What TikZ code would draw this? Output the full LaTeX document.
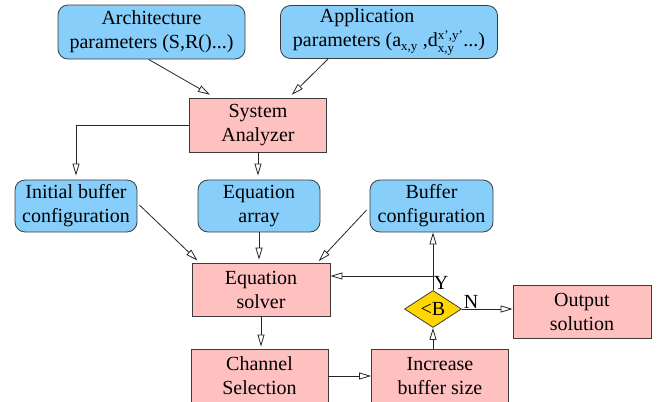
\documentclass[tikz,border=0pt]{standalone}
\usepackage{fontspec}
\setmainfont{Liberation Serif}
\usetikzlibrary{arrows.meta,shapes.geometric,calc}
\definecolor{boxblue}{RGB}{135,206,250}
\definecolor{boxpink}{RGB}{255,192,192}
\definecolor{boxgold}{RGB}{255,215,0}
\definecolor{edgegray}{RGB}{60,60,60}
\begin{document}
\begin{tikzpicture}[x=1pt,y=-1pt,
  every node/.style={font=\fontsize{20}{24}\selectfont, inner sep=0pt},
  bluebox/.style={draw=edgegray, line width=0.8pt, fill=boxblue, rounded corners=10pt, align=center},
  pinkbox/.style={draw=edgegray, line width=0.8pt, fill=boxpink, align=center},
  decbox/.style={draw=edgegray, line width=0.8pt, fill=boxgold, diamond, aspect=1.55, minimum width=57pt, minimum height=37pt},
  conn/.style={draw=black!85, line width=0.8pt, -{Triangle[open,length=12pt,width=7pt]}},
  plain/.style={draw=black!85, line width=0.8pt}]
\useasboundingbox (0,0) rectangle (657,402);
\clip (0,0) rectangle (657,402);
\node[bluebox, minimum width=187pt, minimum height=54pt] (arch) at (151.5,32) {Architecture\\parameters (S,R()...)};
\node[bluebox, minimum width=217pt, minimum height=53pt, align=left] (app) at (389,32)
  {\hspace*{27pt}Application\\parameters (a$_{\mbox{\fontsize{13}{13}\selectfont x,y}}$ ,d$^{\mbox{\fontsize{13}{13}\selectfont x',y'}}_{\mbox{\fontsize{13}{13}\selectfont x,y}}$...)};
\node[pinkbox, minimum width=137pt, minimum height=54pt] (sa) at (258,125) {System\\Analyzer};
\node[bluebox, minimum width=122pt, minimum height=52pt] (ib) at (76,206) {Initial buffer\\configuration};
\node[bluebox, minimum width=122pt, minimum height=52pt] (ea) at (259,206) {Equation\\array};
\node[bluebox, minimum width=123pt, minimum height=52pt] (bc) at (431.5,206) {Buffer\\configuration};
\node[pinkbox, minimum width=138pt, minimum height=53pt] (es) at (261,289.5) {Equation\\solver};
\node[decbox] (dec) at (433,309) {<B};
\node[pinkbox, minimum width=138pt, minimum height=53pt] (out) at (582,311.5) {Output\\solution};
\node[pinkbox, minimum width=137pt, minimum height=54pt] (cs) at (259.5,376) {Channel\\Selection};
\node[pinkbox, minimum width=137pt, minimum height=54pt] (inc) at (440,376) {Increase\\buffer size};
\node (ylab) at (441,283) {Y};
\node (nlab) at (471,302) {N};
\coordinate (yj) at (433,276);
% connectors
\draw[conn, shorten >=6pt] ($(arch.south west)+(91,0)$) -- ($(sa.north west)+(26,0)$);
\draw[conn, shorten >=4pt] ($(app.south west)+(48,0)$) -- ($(sa.north east)+(-38,0)$);
\draw[conn, shorten >=4pt] (sa.west) -| (ib.north);
\draw[conn, shorten >=4pt] (sa.south) -- (sa.south |- ea.north);
\draw[conn, shorten >=3pt] ($(ib.east)+(2,-1)$) -- ($(es.north west)+(8,0)$);
\draw[conn, shorten >=3pt] (ea.south) -- (ea.south |- es.north);
\draw[conn, shorten >=2pt] ($(bc.west)+(-3,4)$) -- ($(es.north east)+(-13,0)$);
\draw[conn] (dec.north) -- (dec.north |- bc.south);
\draw[conn] (yj) -- (yj -| es.east);
\draw[conn] (dec.east) -- (dec.east -| out.west);
\draw[conn, shorten >=2pt] (es.south) -- (es.south |- cs.north);
\draw[conn] (cs.east) -- (cs.east -| inc.west);
\draw[conn] (dec.south |- inc.north) -- (dec.south);
\end{tikzpicture}
\end{document}
